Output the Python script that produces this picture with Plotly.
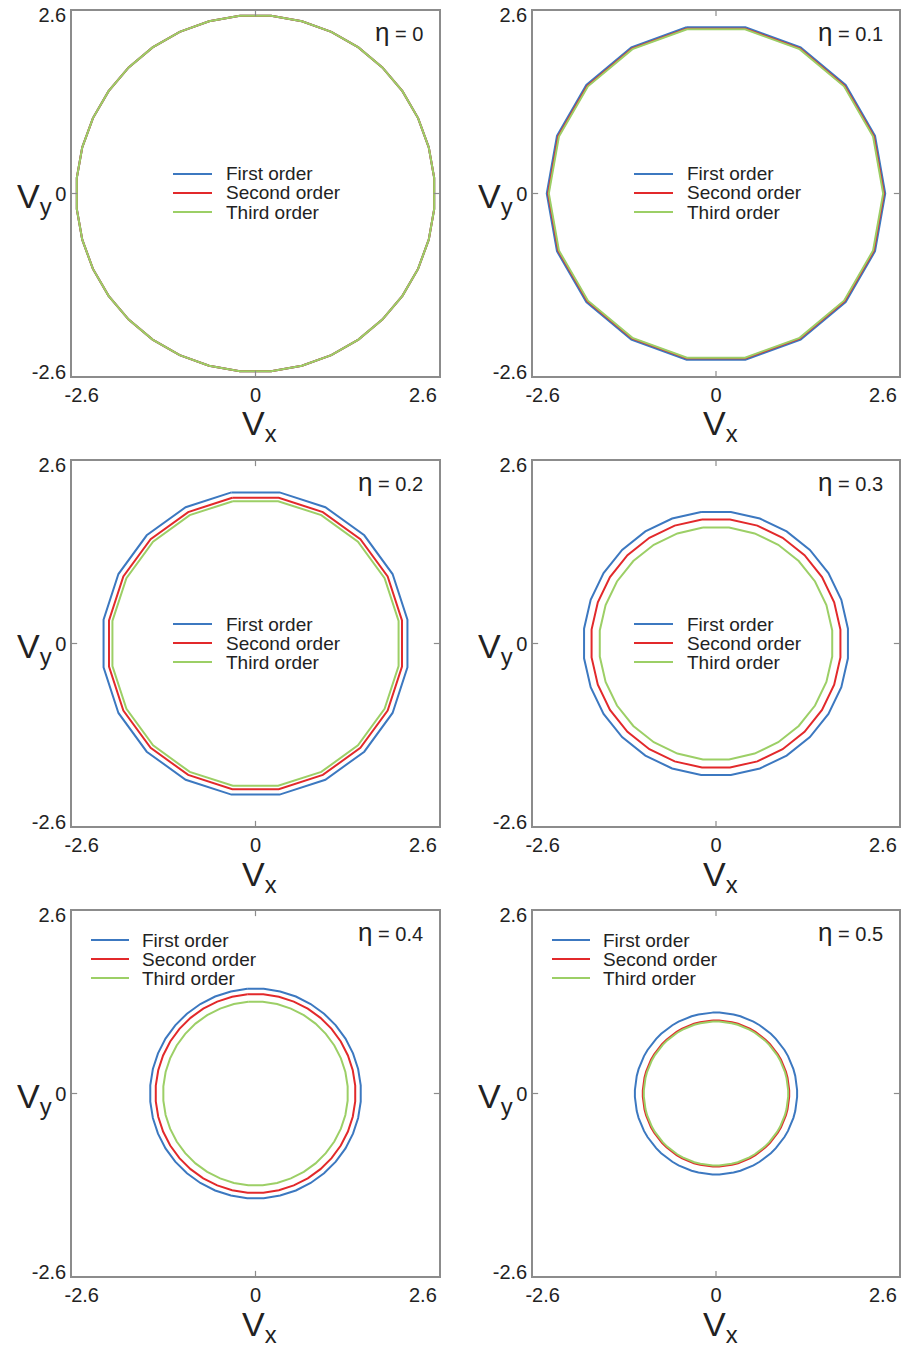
import numpy as np
import plotly.graph_objects as go

# Loss factor of each panel
eta = [0.0, 0.1, 0.2, 0.3, 0.4, 0.5]
eta_labels = ["0", "0.1", "0.2", "0.3", "0.4", "0.5"]

# Circumradius of the voltage boundary for each approximation order
r_first = [2.60, 2.46, 2.23, 1.93, 1.53, 1.18]
r_second = [2.60, 2.44, 2.15, 1.82, 1.45, 1.065]
r_third = [2.60, 2.43, 2.10, 1.70, 1.34, 1.05]

# Number of computed boundary points (polygon vertices) per panel
n_points = [36, 18, 20, 28, 40, 72]

series_names = ["First order", "Second order", "Third order"]
series_colors = ["#3c78c0", "#e2292b", "#9ccf66"]

FS = "\u2007"  # figure space, nudges the left end label inwards
x_tick_vals = [-2.6, 0]
x_tick_text = [FS + "-2.6", "0"]
x_end_tick_vals = [2.6]          # label shifted inwards along the axis
x_end_tick_text = ["2.6"]
y_tick_vals = [-2.6, 0, 2.6]
y_tick_text = ["-2.6", "0", "2.6"]
axis_lim = 2.66

W, H = 906, 1348
col_px = [(72, 439), (533, 899)]
row_px = [(11, 376), (461, 826), (911, 1276)]

FONT = "Arial, Liberation Sans, Helvetica, sans-serif"
TXT = "#222222"
AX = "#8c8c8c"


def boundary(radius, n):
    ang = np.deg2rad(90.0 + 180.0 / n + 360.0 / n * np.arange(n + 1))
    return radius * np.cos(ang), radius * np.sin(ang)


def px_x(v):
    return v / W


def px_y(v):
    return 1 - v / H


fig = go.Figure()
layout = {}
annotations = []
shapes = []

for p in range(6):
    r, c = divmod(p, 2)
    x0, x1 = col_px[c]
    y0, y1 = row_px[r]
    k = "" if p == 0 else str(p + 1)
    xa, ya = "x" + k, "y" + k
    xe = "x" + str(p + 7)

    axis_style = dict(
        range=[-axis_lim, axis_lim], ticks="", showgrid=False, zeroline=False,
        automargin=False, tickfont=dict(family=FONT, size=20, color=TXT),
    )
    frame = dict(showline=True, mirror=True, linecolor=AX, linewidth=1.5)
    layout["xaxis" + k] = dict(domain=[px_x(x0), px_x(x1)], anchor=ya,
                               tickvals=x_tick_vals, ticktext=x_tick_text,
                               **frame, **axis_style)
    layout["yaxis" + k] = dict(domain=[px_y(y1), px_y(y0)], anchor=xa,
                               tickvals=y_tick_vals, ticktext=y_tick_text,
                               **frame, **axis_style)
    # overlaid x axis carrying only the right-hand end label
    layout["xaxis" + str(p + 7)] = dict(
        overlaying=xa, anchor=ya, side="bottom", showline=False,
        tickvals=x_end_tick_vals, ticktext=x_end_tick_text,
        ticklabelshift=-12, ticklabelstandoff=5, ticklabeloverflow="allow",
        **axis_style)

    for name, color, radii in zip(series_names, series_colors, [r_first, r_second, r_third]):
        bx, by = boundary(radii[p], n_points[p])
        fig.add_trace(go.Scatter(
            x=bx, y=by, mode="lines", name=name, showlegend=False,
            line=dict(color=color, width=2), xaxis=xa, yaxis=ya,
        ))
    # empty trace so the overlaid label axis is laid out
    fig.add_trace(go.Scatter(x=[], y=[], mode="lines", showlegend=False,
                             hoverinfo="skip", xaxis=xe, yaxis=ya))

    # legend block: centred in the upper rows, top-left in the bottom row
    if r < 2:
        lx0, lx1, ltx, lys = x0 + 101, x0 + 140, x0 + 152, [y0 + 163, y0 + 182, y0 + 201]
    else:
        lx0, lx1, ltx, lys = x0 + 19, x0 + 57, x0 + 68, [y0 + 29, y0 + 48, y0 + 67]
    for name, color, ly in zip(series_names, series_colors, lys):
        shapes.append(dict(type="line", xref="paper", yref="paper",
                           x0=px_x(lx0), x1=px_x(lx1), y0=px_y(ly), y1=px_y(ly),
                           line=dict(color=color, width=2)))
        annotations.append(dict(
            xref="paper", yref="paper", x=px_x(ltx), y=px_y(ly),
            xanchor="left", yanchor="middle", showarrow=False, text=name,
            font=dict(family=FONT, size=19, color=TXT),
        ))

    # small inward tick marks at the origin on all four sides
    tl = 0.014
    for a, b in [(0, tl), (1 - tl, 1)]:
        shapes.append(dict(type="line", xref=xa, yref=ya + " domain", x0=0, x1=0,
                           y0=a, y1=b, line=dict(color=AX, width=1.2)))
        shapes.append(dict(type="line", xref=xa + " domain", yref=ya, x0=a, x1=b,
                           y0=0, y1=0, line=dict(color=AX, width=1.2)))

    # panel label
    annotations.append(dict(
        xref="paper", yref="paper", x=px_x(x1 - 14), y=px_y(y0 + 21),
        xanchor="right", yanchor="middle", showarrow=False,
        text="<span style='font-size:26px'>η</span> = " + eta_labels[p],
        font=dict(family=FONT, size=20, color=TXT),
    ))
    # axis titles
    annotations.append(dict(
        xref="paper", yref="paper", x=px_x((x0 + x1) / 2 + 4), y=px_y(y1 + 50),
        xanchor="center", yanchor="middle", showarrow=False,
        text="V<sub>x</sub>", font=dict(family=FONT, size=34, color=TXT),
    ))
    annotations.append(dict(
        xref="paper", yref="paper", x=px_x(x0 - 38), y=px_y((y0 + y1) / 2 + 5),
        xanchor="center", yanchor="middle", showarrow=False,
        text="V<sub>y</sub>", font=dict(family=FONT, size=34, color=TXT),
    ))

fig.update_layout(
    width=W, height=H, margin=dict(l=0, r=0, t=0, b=0),
    paper_bgcolor="white", plot_bgcolor="white", showlegend=False,
    annotations=annotations, shapes=shapes, **layout,
)

fig.write_html("out.html")
